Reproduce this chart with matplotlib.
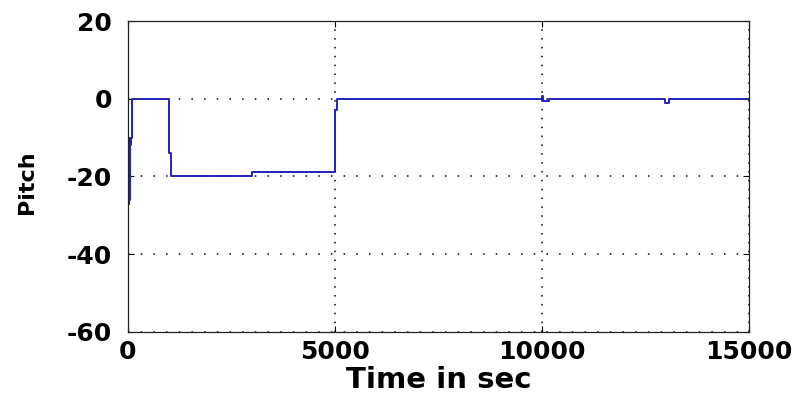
import numpy as np
import matplotlib.pyplot as plt

# Pitch trace (step changes, seconds / degrees)
time_s = [0, 5, 12, 20, 28, 36, 44, 52, 60, 70, 100, 1000, 1030, 3000,
          5000, 5050, 9990, 10030, 10180, 12960, 13060, 15000]
pitch = [0, -27, -10, -27, -11, -26, -10, -25, -12, -10, 0, -14, -20, -18.8,
         -2.8, 0, 0.6, -0.6, 0, -1, 0, 0]

x_ticks = [0, 5000, 10000, 15000]
y_ticks = [-60, -40, -20, 0, 20]

plt.rcParams['font.family'] = 'DejaVu Sans'
plt.rcParams['font.weight'] = 'bold'
plt.rcParams['axes.unicode_minus'] = False

fig = plt.figure(figsize=(8.02, 3.94), dpi=100)
ax = fig.add_axes([0.1596, 0.1574, 0.7743, 0.7893])

ax.plot(time_s, pitch, drawstyle='steps-post', color='#2222bb', linewidth=1.4)

ax.set_xlim(0, 15000)
ax.set_ylim(-60, 20)
ax.set_xticks(x_ticks)
ax.set_yticks(y_ticks)

# MATLAB style dotted grid
ax.xaxis.grid(True, color='black', linestyle=(0, (1, 4.8)), linewidth=1.1)
ax.yaxis.grid(True, color='black', linestyle=(0, (1, 7.3)), linewidth=1.1)

ax.tick_params(direction='in', length=4.5, width=0.8, top=True, right=True,
               labelsize=18, colors='black')
ax.tick_params(axis='y', pad=11.5)
ax.tick_params(axis='x', pad=5.8)
for s in ax.spines.values():
    s.set_linewidth(0.9)
    s.set_color('#222222')

ax.set_xlabel('Time in sec', fontsize=21, fontweight='bold')
ax.xaxis.set_label_coords(0.5, -0.109)
ax.xaxis.label.set_verticalalignment('top')
ax.set_ylabel('Pitch', fontsize=16, fontweight='bold')
ax.yaxis.set_label_coords(-0.146, 0.482)

fig.savefig('out.png', dpi=100)
